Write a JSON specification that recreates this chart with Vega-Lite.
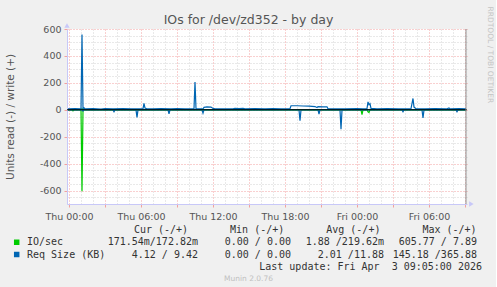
{
  "$schema": "https://vega.github.io/schema/vega-lite/v6.json",
  "background": "#F0F0F0",
  "padding": {"left": 5, "top": 5, "right": 3, "bottom": 6},
  "config": {"font": "DejaVu Sans", "view": {"stroke": null}},
  "spacing": 3,
  "datasets": {
    "io": [
      {"time": "2026-04-01T23:55:00", "dir": "read", "value": -0.5},
      {"time": "2026-04-02T00:15:00", "dir": "read", "value": -0.5},
      {"time": "2026-04-02T00:20:00", "dir": "read", "value": -8},
      {"time": "2026-04-02T00:25:00", "dir": "read", "value": -0.5},
      {"time": "2026-04-02T01:00:00", "dir": "read", "value": -0.5},
      {"time": "2026-04-02T01:05:00", "dir": "read", "value": -605.77},
      {"time": "2026-04-02T01:10:00", "dir": "read", "value": -0.5},
      {"time": "2026-04-03T00:20:00", "dir": "read", "value": -0.5},
      {"time": "2026-04-03T00:25:00", "dir": "read", "value": -37},
      {"time": "2026-04-03T00:30:00", "dir": "read", "value": -0.5},
      {"time": "2026-04-03T00:50:00", "dir": "read", "value": -0.5},
      {"time": "2026-04-03T00:55:00", "dir": "read", "value": -15},
      {"time": "2026-04-03T01:00:00", "dir": "read", "value": -20},
      {"time": "2026-04-03T01:05:00", "dir": "read", "value": -0.5},
      {"time": "2026-04-03T09:05:00", "dir": "read", "value": -0.5},
      {"time": "2026-04-01T23:55:00", "dir": "write", "value": 0.3},
      {"time": "2026-04-02T01:00:00", "dir": "write", "value": 0.3},
      {"time": "2026-04-02T01:05:00", "dir": "write", "value": 7.89},
      {"time": "2026-04-02T01:10:00", "dir": "write", "value": 0.3},
      {"time": "2026-04-03T09:05:00", "dir": "write", "value": 0.3}
    ],
    "req": [
      {"time": "2026-04-01T23:55:00", "dir": "write", "value": 7},
      {"time": "2026-04-02T00:30:00", "dir": "write", "value": 8},
      {"time": "2026-04-02T01:00:00", "dir": "write", "value": 6},
      {"time": "2026-04-02T01:05:00", "dir": "write", "value": 560},
      {"time": "2026-04-02T01:10:00", "dir": "write", "value": 9},
      {"time": "2026-04-02T01:15:00", "dir": "write", "value": 14},
      {"time": "2026-04-02T01:20:00", "dir": "write", "value": 6},
      {"time": "2026-04-02T02:00:00", "dir": "write", "value": 8},
      {"time": "2026-04-02T02:40:00", "dir": "write", "value": 5},
      {"time": "2026-04-02T03:00:00", "dir": "write", "value": 8},
      {"time": "2026-04-02T03:40:00", "dir": "write", "value": 6},
      {"time": "2026-04-02T04:30:00", "dir": "write", "value": 8},
      {"time": "2026-04-02T05:10:00", "dir": "write", "value": 6},
      {"time": "2026-04-02T05:35:00", "dir": "write", "value": 7},
      {"time": "2026-04-02T06:10:00", "dir": "write", "value": 9},
      {"time": "2026-04-02T06:15:00", "dir": "write", "value": 47},
      {"time": "2026-04-02T06:20:00", "dir": "write", "value": 12},
      {"time": "2026-04-02T06:30:00", "dir": "write", "value": 7},
      {"time": "2026-04-02T07:00:00", "dir": "write", "value": 6},
      {"time": "2026-04-02T07:40:00", "dir": "write", "value": 8},
      {"time": "2026-04-02T08:30:00", "dir": "write", "value": 6},
      {"time": "2026-04-02T09:00:00", "dir": "write", "value": 8},
      {"time": "2026-04-02T09:40:00", "dir": "write", "value": 6},
      {"time": "2026-04-02T10:25:00", "dir": "write", "value": 7},
      {"time": "2026-04-02T10:30:00", "dir": "write", "value": 207},
      {"time": "2026-04-02T10:35:00", "dir": "write", "value": 8},
      {"time": "2026-04-02T11:10:00", "dir": "write", "value": 6},
      {"time": "2026-04-02T11:15:00", "dir": "write", "value": 18},
      {"time": "2026-04-02T11:30:00", "dir": "write", "value": 22},
      {"time": "2026-04-02T11:50:00", "dir": "write", "value": 20},
      {"time": "2026-04-02T12:00:00", "dir": "write", "value": 10},
      {"time": "2026-04-02T12:10:00", "dir": "write", "value": 7},
      {"time": "2026-04-02T13:00:00", "dir": "write", "value": 6},
      {"time": "2026-04-02T13:40:00", "dir": "write", "value": 7},
      {"time": "2026-04-02T13:50:00", "dir": "write", "value": 11},
      {"time": "2026-04-02T14:10:00", "dir": "write", "value": 9},
      {"time": "2026-04-02T14:30:00", "dir": "write", "value": 11},
      {"time": "2026-04-02T14:40:00", "dir": "write", "value": 7},
      {"time": "2026-04-02T15:30:00", "dir": "write", "value": 8},
      {"time": "2026-04-02T16:20:00", "dir": "write", "value": 6},
      {"time": "2026-04-02T17:00:00", "dir": "write", "value": 8},
      {"time": "2026-04-02T17:40:00", "dir": "write", "value": 7},
      {"time": "2026-04-02T18:25:00", "dir": "write", "value": 8},
      {"time": "2026-04-02T18:30:00", "dir": "write", "value": 30},
      {"time": "2026-04-02T19:00:00", "dir": "write", "value": 30},
      {"time": "2026-04-02T19:30:00", "dir": "write", "value": 28},
      {"time": "2026-04-02T20:00:00", "dir": "write", "value": 27},
      {"time": "2026-04-02T20:30:00", "dir": "write", "value": 24},
      {"time": "2026-04-02T20:40:00", "dir": "write", "value": 16},
      {"time": "2026-04-02T20:45:00", "dir": "write", "value": 24},
      {"time": "2026-04-02T21:10:00", "dir": "write", "value": 22},
      {"time": "2026-04-02T21:30:00", "dir": "write", "value": 22},
      {"time": "2026-04-02T21:35:00", "dir": "write", "value": 8},
      {"time": "2026-04-02T22:00:00", "dir": "write", "value": 7},
      {"time": "2026-04-02T23:00:00", "dir": "write", "value": 6},
      {"time": "2026-04-03T00:00:00", "dir": "write", "value": 8},
      {"time": "2026-04-03T00:30:00", "dir": "write", "value": 7},
      {"time": "2026-04-03T00:50:00", "dir": "write", "value": 9},
      {"time": "2026-04-03T00:55:00", "dir": "write", "value": 59},
      {"time": "2026-04-03T01:00:00", "dir": "write", "value": 38},
      {"time": "2026-04-03T01:05:00", "dir": "write", "value": 45},
      {"time": "2026-04-03T01:10:00", "dir": "write", "value": 10},
      {"time": "2026-04-03T01:40:00", "dir": "write", "value": 7},
      {"time": "2026-04-03T02:30:00", "dir": "write", "value": 8},
      {"time": "2026-04-03T03:30:00", "dir": "write", "value": 6},
      {"time": "2026-04-03T04:30:00", "dir": "write", "value": 8},
      {"time": "2026-04-03T04:40:00", "dir": "write", "value": 84},
      {"time": "2026-04-03T04:45:00", "dir": "write", "value": 20},
      {"time": "2026-04-03T04:55:00", "dir": "write", "value": 8},
      {"time": "2026-04-03T05:40:00", "dir": "write", "value": 6},
      {"time": "2026-04-03T06:30:00", "dir": "write", "value": 8},
      {"time": "2026-04-03T07:30:00", "dir": "write", "value": 7},
      {"time": "2026-04-03T07:40:00", "dir": "write", "value": 14},
      {"time": "2026-04-03T07:45:00", "dir": "write", "value": 7},
      {"time": "2026-04-03T08:30:00", "dir": "write", "value": 8},
      {"time": "2026-04-03T09:05:00", "dir": "write", "value": 6},
      {"time": "2026-04-01T23:55:00", "dir": "read", "value": -1},
      {"time": "2026-04-02T01:05:00", "dir": "read", "value": -1},
      {"time": "2026-04-02T01:10:00", "dir": "read", "value": -10},
      {"time": "2026-04-02T01:15:00", "dir": "read", "value": -1},
      {"time": "2026-04-02T03:40:00", "dir": "read", "value": -1},
      {"time": "2026-04-02T03:45:00", "dir": "read", "value": -15},
      {"time": "2026-04-02T03:50:00", "dir": "read", "value": -1},
      {"time": "2026-04-02T05:35:00", "dir": "read", "value": -1},
      {"time": "2026-04-02T05:40:00", "dir": "read", "value": -57},
      {"time": "2026-04-02T05:45:00", "dir": "read", "value": -1},
      {"time": "2026-04-02T08:15:00", "dir": "read", "value": -1},
      {"time": "2026-04-02T08:20:00", "dir": "read", "value": -30},
      {"time": "2026-04-02T08:25:00", "dir": "read", "value": -1},
      {"time": "2026-04-02T11:05:00", "dir": "read", "value": -1},
      {"time": "2026-04-02T11:10:00", "dir": "read", "value": -25},
      {"time": "2026-04-02T11:15:00", "dir": "read", "value": -1},
      {"time": "2026-04-02T19:10:00", "dir": "read", "value": -1},
      {"time": "2026-04-02T19:15:00", "dir": "read", "value": -81},
      {"time": "2026-04-02T19:20:00", "dir": "read", "value": -1},
      {"time": "2026-04-02T20:45:00", "dir": "read", "value": -1},
      {"time": "2026-04-02T20:50:00", "dir": "read", "value": -32},
      {"time": "2026-04-02T20:55:00", "dir": "read", "value": -1},
      {"time": "2026-04-02T22:35:00", "dir": "read", "value": -1},
      {"time": "2026-04-02T22:40:00", "dir": "read", "value": -145.18},
      {"time": "2026-04-02T22:45:00", "dir": "read", "value": -1},
      {"time": "2026-04-03T03:45:00", "dir": "read", "value": -1},
      {"time": "2026-04-03T03:50:00", "dir": "read", "value": -15},
      {"time": "2026-04-03T03:55:00", "dir": "read", "value": -1},
      {"time": "2026-04-03T05:25:00", "dir": "read", "value": -1},
      {"time": "2026-04-03T05:30:00", "dir": "read", "value": -61},
      {"time": "2026-04-03T05:35:00", "dir": "read", "value": -1},
      {"time": "2026-04-03T08:15:00", "dir": "read", "value": -1},
      {"time": "2026-04-03T08:20:00", "dir": "read", "value": -15},
      {"time": "2026-04-03T08:25:00", "dir": "read", "value": -1},
      {"time": "2026-04-03T09:05:00", "dir": "read", "value": -1}
    ],
    "keys": [{"series": "IO/sec"}, {"series": "Req Size (KB)"}],
    "stats": [
      {"series": "IO/sec", "stat": "Cur", "text": "171.54m/172.82m"},
      {"series": "IO/sec", "stat": "Min", "text": "0.00 / 0.00"},
      {"series": "IO/sec", "stat": "Avg", "text": "1.88 /219.62m"},
      {"series": "IO/sec", "stat": "Max", "text": "605.77 / 7.89"},
      {"series": "Req Size (KB)", "stat": "Cur", "text": "4.12 / 9.42"},
      {"series": "Req Size (KB)", "stat": "Min", "text": "0.00 / 0.00"},
      {"series": "Req Size (KB)", "stat": "Avg", "text": "2.01 /11.88"},
      {"series": "Req Size (KB)", "stat": "Max", "text": "145.18 /365.88"}
    ],
    "headers": [{"text": "Cur (-/+)"}, {"text": "Min (-/+)"}, {"text": "Avg (-/+)"}, {"text": "Max (-/+)"}]
  },
  "vconcat": [
    {
      "width": 400,
      "height": 175,
      "view": {"fill": "white", "stroke": null},
      "title": {"text": "IOs for /dev/zd352 - by day", "fontSize": 12.5, "fontWeight": "normal", "color": "#555555", "dx": -18.5, "offset": -20},
      "resolve": {"axis": {"x": "independent", "y": "independent"}},
      "layer": [
        {
          "data": {"name": "io"},
          "mark": {"type": "line", "opacity": 0},
          "encoding": {
            "x": {"field": "time", "type": "temporal",
              "scale": {"domain": [{"year": 2026, "month": 4, "date": 1, "hours": 23, "minutes": 50}, {"year": 2026, "month": 4, "date": 3, "hours": 9, "minutes": 10}], "nice": false},
              "axis": {"orient": "top", "grid": true, "gridDash": [1, 2], "gridColor": "#d2d2d2", "labels": false, "ticks": false, "domain": false, "title": null,
                "values": [
                  {"year": 2026, "month": 4, "date": 2, "hours": 1}, {"year": 2026, "month": 4, "date": 2, "hours": 2},
                  {"year": 2026, "month": 4, "date": 2, "hours": 4}, {"year": 2026, "month": 4, "date": 2, "hours": 5},
                  {"year": 2026, "month": 4, "date": 2, "hours": 7}, {"year": 2026, "month": 4, "date": 2, "hours": 8},
                  {"year": 2026, "month": 4, "date": 2, "hours": 10}, {"year": 2026, "month": 4, "date": 2, "hours": 11},
                  {"year": 2026, "month": 4, "date": 2, "hours": 13}, {"year": 2026, "month": 4, "date": 2, "hours": 14},
                  {"year": 2026, "month": 4, "date": 2, "hours": 16}, {"year": 2026, "month": 4, "date": 2, "hours": 17},
                  {"year": 2026, "month": 4, "date": 2, "hours": 19}, {"year": 2026, "month": 4, "date": 2, "hours": 20},
                  {"year": 2026, "month": 4, "date": 2, "hours": 22}, {"year": 2026, "month": 4, "date": 2, "hours": 23},
                  {"year": 2026, "month": 4, "date": 3, "hours": 1}, {"year": 2026, "month": 4, "date": 3, "hours": 2},
                  {"year": 2026, "month": 4, "date": 3, "hours": 4}, {"year": 2026, "month": 4, "date": 3, "hours": 5},
                  {"year": 2026, "month": 4, "date": 3, "hours": 7}, {"year": 2026, "month": 4, "date": 3, "hours": 8}
                ]}},
            "y": {"field": "value", "type": "quantitative",
              "scale": {"domain": [-700, 600], "nice": false, "zero": false},
              "axis": {"orient": "right", "grid": true, "gridDash": [1, 2], "gridColor": "#d2d2d2", "values": [-650, -550, -500, -450, -350, -300, -250, -150, -100, -50, 50, 100, 150, 250, 300, 350, 450, 500, 550], "labels": false, "ticks": false, "domain": false,
                "title": "RRDTOOL / TOBI OETIKER", "titleFontSize": 7.5, "titleFontWeight": "normal", "titleColor": "#c4c4c4", "titleAngle": 90, "titleAnchor": "end", "titleAlign": "left", "titlePadding": 18, "titleY": -23}}
          }
        },
        {
          "data": {"name": "io"},
          "mark": {"type": "line", "strokeWidth": 1.2, "color": "#00CC00"},
          "encoding": {
            "x": {"field": "time", "type": "temporal",
              "scale": {"domain": [{"year": 2026, "month": 4, "date": 1, "hours": 23, "minutes": 50}, {"year": 2026, "month": 4, "date": 3, "hours": 9, "minutes": 10}], "nice": false},
              "axis": {"orient": "bottom", "grid": true, "gridDash": [1, 2], "gridColor": "#f2a0a0",
                "values": [
                  {"year": 2026, "month": 4, "date": 2, "hours": 0}, {"year": 2026, "month": 4, "date": 2, "hours": 3},
                  {"year": 2026, "month": 4, "date": 2, "hours": 6}, {"year": 2026, "month": 4, "date": 2, "hours": 9},
                  {"year": 2026, "month": 4, "date": 2, "hours": 12}, {"year": 2026, "month": 4, "date": 2, "hours": 15},
                  {"year": 2026, "month": 4, "date": 2, "hours": 18}, {"year": 2026, "month": 4, "date": 2, "hours": 21},
                  {"year": 2026, "month": 4, "date": 3, "hours": 0}, {"year": 2026, "month": 4, "date": 3, "hours": 3},
                  {"year": 2026, "month": 4, "date": 3, "hours": 6}, {"year": 2026, "month": 4, "date": 3, "hours": 9}
                ],
                "labelExpr": "hours(datum.value) % 6 == 0 ? timeFormat(datum.value, '%a %H:%M') : ''", "labelOverlap": false, "labelFlush": false, "labelFontSize": 9.5, "labelColor": "#555555", "labelPadding": 4, "tickColor": "#f2a0a0", "tickSize": 3, "domainColor": "#c8c8f8", "title": null}},
            "y": {"field": "value", "type": "quantitative",
              "scale": {"domain": [-700, 600], "nice": false, "zero": false},
              "axis": {"orient": "left", "values": [-600, -400, -200, 0, 200, 400, 600], "labelExpr": "'' + datum.value", "labelOverlap": false, "grid": true, "gridDash": [1, 2], "gridColor": "#f2a0a0", "labelFontSize": 9.5, "labelColor": "#555555", "labelPadding": 3, "tickColor": "#f2a0a0", "tickSize": 3, "domainColor": "#c8c8f8", "minExtent": 0,
                "title": "Units read (-) / write (+)", "titleFontSize": 10.5, "titleFontWeight": "normal", "titleColor": "#555555", "titlePadding": 24}},
            "detail": {"field": "dir"}
          }
        },
        {
          "data": {"name": "req"},
          "mark": {"type": "line", "strokeWidth": 1.2, "color": "#0066B3"},
          "encoding": {
            "x": {"field": "time", "type": "temporal",
              "scale": {"domain": [{"year": 2026, "month": 4, "date": 1, "hours": 23, "minutes": 50}, {"year": 2026, "month": 4, "date": 3, "hours": 9, "minutes": 10}], "nice": false}, "axis": null},
            "y": {"field": "value", "type": "quantitative", "scale": {"domain": [-700, 600], "nice": false, "zero": false}, "axis": null},
            "detail": {"field": "dir"}
          }
        },
        {
          "data": {"values": [{"value": 0}]},
          "mark": {"type": "rule", "color": "#000000", "strokeWidth": 1.2},
          "encoding": {
            "y": {"field": "value", "type": "quantitative", "scale": {"domain": [-700, 600], "nice": false, "zero": false}, "axis": null}
          }
        },
        {
          "data": {"values": [{"time": "2026-04-03T09:05:00"}]},
          "mark": {"type": "rule", "color": "#888888", "strokeWidth": 1},
          "encoding": {
            "x": {"field": "time", "type": "temporal",
              "scale": {"domain": [{"year": 2026, "month": 4, "date": 1, "hours": 23, "minutes": 50}, {"year": 2026, "month": 4, "date": 3, "hours": 9, "minutes": 10}], "nice": false}, "axis": null}
          }
        },
        {
          "data": {"values": [{"axis": "y"}]},
          "mark": {"type": "point", "shape": "triangle-up", "filled": true, "size": 28, "color": "#c8c8f8", "opacity": 1},
          "encoding": {
            "x": {"datum": {"year": 2026, "month": 4, "date": 1, "hours": 23, "minutes": 50}, "type": "temporal",
              "scale": {"domain": [{"year": 2026, "month": 4, "date": 1, "hours": 23, "minutes": 50}, {"year": 2026, "month": 4, "date": 3, "hours": 9, "minutes": 10}], "nice": false}, "axis": null},
            "y": {"datum": 626, "type": "quantitative", "scale": {"domain": [-700, 600], "nice": false, "zero": false}, "axis": null}
          }
        },
        {
          "data": {"values": [{"axis": "x"}]},
          "mark": {"type": "point", "shape": "triangle-right", "filled": true, "size": 28, "color": "#c8c8f8", "opacity": 1},
          "encoding": {
            "x": {"datum": {"year": 2026, "month": 4, "date": 3, "hours": 9, "minutes": 32}, "type": "temporal",
              "scale": {"domain": [{"year": 2026, "month": 4, "date": 1, "hours": 23, "minutes": 50}, {"year": 2026, "month": 4, "date": 3, "hours": 9, "minutes": 10}], "nice": false}, "axis": null},
            "y": {"datum": -700, "type": "quantitative", "scale": {"domain": [-700, 600], "nice": false, "zero": false}, "axis": null}
          }
        }
      ]
    },
    {
      "width": 400,
      "height": 60,
      "resolve": {"scale": {"x": "independent"}},
      "layer": [
        {
          "data": {"name": "keys"},
          "mark": {"type": "point", "shape": "square", "filled": true, "size": 30, "opacity": 1},
          "encoding": {
            "x": {"datum": "swatch", "type": "nominal", "scale": {"domain": ["swatch", "name"], "range": [-50.3, -40], "padding": 0}, "axis": null},
            "y": {"field": "series", "type": "nominal", "scale": {"domain": ["head", "IO/sec", "Req Size (KB)", "upd", "munin"], "range": [6, 55], "padding": 0}, "axis": null},
            "color": {"field": "series", "type": "nominal", "scale": {"domain": ["IO/sec", "Req Size (KB)"], "range": ["#00CC00", "#0066B3"]}, "legend": null}
          }
        },
        {
          "data": {"name": "keys"},
          "mark": {"type": "text", "align": "left", "baseline": "middle", "font": "DejaVu Sans Mono", "fontSize": 10, "color": "#333333"},
          "encoding": {
            "x": {"datum": "name", "type": "nominal", "scale": {"domain": ["swatch", "name"], "range": [-50.3, -40], "padding": 0}, "axis": null},
            "y": {"field": "series", "type": "nominal", "scale": {"domain": ["head", "IO/sec", "Req Size (KB)", "upd", "munin"], "range": [6, 55], "padding": 0}, "axis": null},
            "text": {"field": "series"}
          }
        },
        {
          "data": {"name": "stats"},
          "mark": {"type": "text", "align": "right", "baseline": "middle", "font": "DejaVu Sans Mono", "fontSize": 10, "color": "#333333"},
          "encoding": {
            "x": {"field": "stat", "type": "nominal", "scale": {"domain": ["Cur", "Min", "Avg", "Max"], "range": [131, 410], "padding": 0}, "axis": null},
            "y": {"field": "series", "type": "nominal", "scale": {"domain": ["head", "IO/sec", "Req Size (KB)", "upd", "munin"], "range": [6, 55], "padding": 0}, "axis": null},
            "text": {"field": "text"}
          }
        },
        {
          "data": {"name": "headers"},
          "mark": {"type": "text", "align": "center", "baseline": "middle", "font": "DejaVu Sans Mono", "fontSize": 10, "color": "#333333"},
          "encoding": {
            "x": {"field": "text", "type": "nominal", "scale": {"domain": ["Cur (-/+)", "Min (-/+)", "Avg (-/+)", "Max (-/+)"], "range": [94, 382.5], "padding": 0}, "axis": null},
            "y": {"datum": "head", "type": "nominal", "scale": {"domain": ["head", "IO/sec", "Req Size (KB)", "upd", "munin"], "range": [6, 55], "padding": 0}, "axis": null},
            "text": {"field": "text"}
          }
        },
        {
          "data": {"values": [{"text": "Last update: Fri Apr \u00a03 09:05:00 2026"}]},
          "mark": {"type": "text", "align": "right", "baseline": "middle", "font": "DejaVu Sans Mono", "fontSize": 10, "color": "#333333"},
          "encoding": {
            "x": {"datum": "upd", "type": "nominal", "scale": {"domain": ["munin", "upd"], "range": [181.5, 415], "padding": 0}, "axis": null},
            "y": {"datum": "upd", "type": "nominal", "scale": {"domain": ["head", "IO/sec", "Req Size (KB)", "upd", "munin"], "range": [6, 55], "padding": 0}, "axis": null},
            "text": {"field": "text"}
          }
        },
        {
          "data": {"values": [{"text": "Munin 2.0.76"}]},
          "mark": {"type": "text", "align": "center", "baseline": "middle", "font": "DejaVu Sans", "fontSize": 7.5, "color": "#c0c0c0"},
          "encoding": {
            "x": {"datum": "munin", "type": "nominal", "scale": {"domain": ["munin", "upd"], "range": [181.5, 415], "padding": 0}, "axis": null},
            "y": {"datum": "munin", "type": "nominal", "scale": {"domain": ["head", "IO/sec", "Req Size (KB)", "upd", "munin"], "range": [6, 55], "padding": 0}, "axis": null},
            "text": {"field": "text"}
          }
        }
      ]
    }
  ]
}
